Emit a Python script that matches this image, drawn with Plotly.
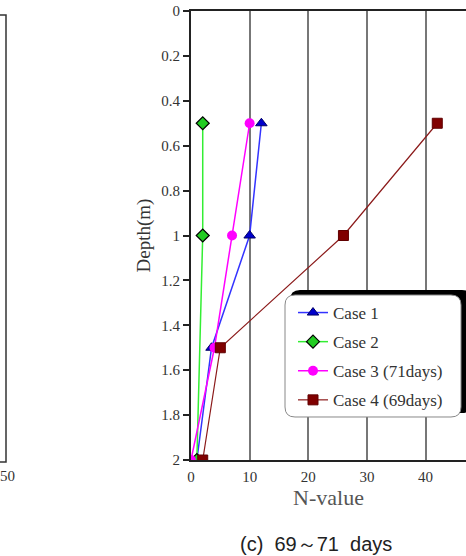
import plotly.graph_objects as go

# ---- data ----
depth_1 = [0.5, 1.0, 1.5, 2.0]
nval_1 = [12, 10, 3.5, 1]
depth_2 = [0.5, 1.0, 2.0]
nval_2 = [2, 2, 1]
depth_3 = [0.5, 1.0, 1.5, 2.0]
nval_3 = [10, 7, 4, 0]
depth_4 = [0.5, 1.0, 1.5, 2.0]
nval_4 = [42, 26, 5, 2]
names = ["Case 1", "Case 2", "Case 3 (71days)", "Case 4 (69days)"]
x_ticks = [0, 10, 20, 30, 40]

W, H = 466, 556
L, R, T, B = 191, 466, 11, 460


def px(x):
    return (x - L) / (R - L)


def py(y):
    return (B - y) / (B - T)


def rrect(x0, y0, x1, y1, r):
    pts = [
        ("M", [(x0 + r, y0)]),
        ("L", [(x1 - r, y0)]),
        ("Q", [(x1, y0), (x1, y0 + r)]),
        ("L", [(x1, y1 - r)]),
        ("Q", [(x1, y1), (x1 - r, y1)]),
        ("L", [(x0 + r, y1)]),
        ("Q", [(x0, y1), (x0, y1 - r)]),
        ("L", [(x0, y0 + r)]),
        ("Q", [(x0, y0), (x0 + r, y0)]),
    ]
    s = ""
    for cmd, ps in pts:
        s += cmd + " " + " ".join(f"{px(a):.5f},{py(b):.5f}" for a, b in ps) + " "
    return s + "Z"


serif = "Liberation Serif"

fig = go.Figure()
fig.add_trace(go.Scatter(
    x=nval_1, y=depth_1, name=names[0], mode="lines+markers", legendgroup="a",
    line=dict(color="#3333ff", width=1.5),
    marker=dict(symbol="triangle-up", size=10, color="#0000cc",
                line=dict(color="#000066", width=1))))
fig.add_trace(go.Scatter(
    x=nval_2, y=depth_2, name=names[1], mode="lines+markers", legendgroup="b",
    line=dict(color="#33ee33", width=1.5),
    marker=dict(symbol="diamond", size=10, color="#22cc22",
                line=dict(color="#000000", width=1.2))))
fig.add_trace(go.Scatter(
    x=nval_3, y=depth_3, name=names[2], mode="lines+markers", legendgroup="c",
    line=dict(color="#ff00ff", width=1.5),
    marker=dict(symbol="circle", size=10, color="#ff00ff")))
fig.add_trace(go.Scatter(
    x=nval_4, y=depth_4, name=names[3], mode="lines+markers", legendgroup="d",
    line=dict(color="#8b1a1a", width=1.2),
    marker=dict(symbol="square", size=10, color="#800000",
                line=dict(color="#600000", width=1))))

shapes = [
    # legend shadow and box
    dict(type="path", xref="paper", yref="paper", path=rrect(290, 290, 472, 413, 10),
         fillcolor="#000000", line=dict(width=0), layer="above"),
    dict(type="path", xref="paper", yref="paper", path=rrect(285, 295, 461, 417, 10),
         fillcolor="#ffffff", line=dict(color="#888888", width=1), layer="above"),
    # partial frame of the neighbouring panel
    dict(type="path", xref="paper", yref="paper",
         path=f"M {px(-5)},{py(15)} L {px(6)},{py(15)} L {px(6)},{py(462)} L {px(-5)},{py(462)}",
         line=dict(color="#333333", width=1.5)),
]

nb = "\u00a0"
fig.update_layout(
    width=W, height=H,
    margin=dict(l=L, r=W - R, t=T, b=H - B),
    paper_bgcolor="white", plot_bgcolor="white",
    showlegend=True,
    legend=dict(x=px(293), y=py(295), xanchor="left", yanchor="top",
                bgcolor="rgba(0,0,0,0)", borderwidth=0, tracegroupgap=4,
                font=dict(family=serif, size=17, color="#333333")),
    shapes=shapes,
    annotations=[
        dict(text="50", xref="paper", yref="paper", x=px(7), y=py(476),
             xanchor="center", yanchor="middle",
             showarrow=False, font=dict(family=serif, size=15, color="#333333")),
        dict(text=f"(c){nb}{nb}69～71{nb}{nb}days", xref="paper", yref="paper",
             x=px(316), y=py(544), xanchor="center", yanchor="middle",
             showarrow=False, font=dict(family="Liberation Sans", size=20, color="#222222")),
    ],
    xaxis=dict(range=[0, 46.9], tickvals=x_ticks, ticks="outside", ticklen=2,
               tickcolor="rgba(0,0,0,0)", showgrid=True,
               gridcolor="#777777", gridwidth=1.5, zeroline=False,
               showline=True, linecolor="#222222", linewidth=2, mirror=True,
               tickfont=dict(family=serif, size=15, color="#333333"),
               title=dict(text="N-value", standoff=2,
                          font=dict(family=serif, size=22, color="#555555"))),
    yaxis=dict(range=[2, 0], dtick=0.2, tick0=0, ticks="outside", ticklen=6,
               tickwidth=1.5, tickcolor="#222222", showgrid=False, zeroline=False,
               showline=True, linecolor="#222222", linewidth=2,
               tickfont=dict(family=serif, size=15, color="#333333"),
               title=dict(text="Depth(m)", standoff=6,
                          font=dict(family=serif, size=19, color="#333333"))),
)

fig.write_html("out.html")
